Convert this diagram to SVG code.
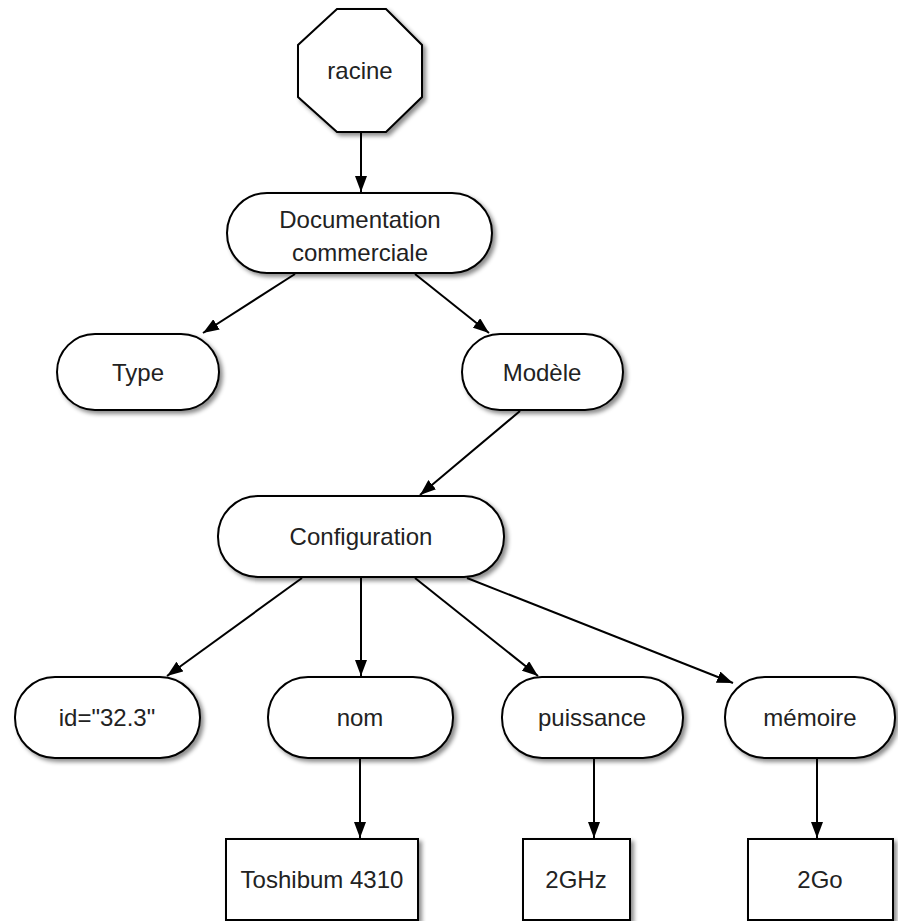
<svg xmlns="http://www.w3.org/2000/svg" width="898" height="921" viewBox="0 0 898 921">
<defs>
<filter id="sh" x="-10%" y="-10%" width="130%" height="140%">
<feDropShadow dx="3" dy="3" stdDeviation="2" flood-color="#000" flood-opacity="0.45"/>
</filter>
<marker id="ah" viewBox="0 0 16 12" refX="16" refY="6" markerWidth="16" markerHeight="12" markerUnits="userSpaceOnUse" orient="auto">
<path d="M0,0 L16,6 L0,12 z" fill="#000"/>
</marker>
</defs>
<style>
.n{fill:#fff;stroke:#000;stroke-width:2;filter:url(#sh)}
.t{font-family:"Liberation Sans",Arial,sans-serif;font-size:24px;fill:#222;text-anchor:middle}
.c line{stroke:#000;stroke-width:2;marker-end:url(#ah)}
</style>
<rect width="898" height="921" fill="#fff"/>
<g class="c">
<line x1="361" y1="132" x2="361" y2="192"/>
<line x1="295" y1="274" x2="203" y2="333"/>
<line x1="415" y1="274" x2="489" y2="333"/>
<line x1="520" y1="411" x2="420" y2="495"/>
<line x1="302" y1="578" x2="167" y2="676"/>
<line x1="361" y1="578" x2="361" y2="676"/>
<line x1="415" y1="578" x2="538" y2="676"/>
<line x1="467" y1="578" x2="733" y2="683"/>
<line x1="360" y1="759" x2="360" y2="838"/>
<line x1="594" y1="759" x2="594" y2="838"/>
<line x1="817" y1="759" x2="817" y2="838"/>
</g>
<g id="racine">
<polygon class="n" points="337,9 386,9 422,45 422,97 386,132 337,132 298,97 298,45"/>
<text class="t" x="360" y="79">racine</text>
</g>
<g id="documentation">
<rect class="n" x="227" y="193" width="265" height="80" rx="40"/>
<text class="t" x="360" y="228">Documentation</text>
<text class="t" x="360" y="261">commerciale</text>
</g>
<g id="type">
<rect class="n" x="57" y="334" width="162" height="76" rx="38"/>
<text class="t" x="138" y="381">Type</text>
</g>
<g id="modele">
<rect class="n" x="462" y="334" width="161" height="76" rx="38"/>
<text class="t" x="542" y="381">Modèle</text>
</g>
<g id="configuration">
<rect class="n" x="218" y="496" width="286" height="81" rx="40"/>
<text class="t" x="361" y="545">Configuration</text>
</g>
<g id="id">
<rect class="n" x="15" y="677" width="185" height="81" rx="40"/>
<text class="t" x="107" y="726">id="32.3"</text>
</g>
<g id="nom">
<rect class="n" x="268" y="677" width="185" height="81" rx="40"/>
<text class="t" x="360" y="726">nom</text>
</g>
<g id="puissance">
<rect class="n" x="502" y="677" width="181" height="81" rx="40"/>
<text class="t" x="592" y="726">puissance</text>
</g>
<g id="memoire">
<rect class="n" x="725" y="677" width="170" height="81" rx="40"/>
<text class="t" x="810" y="726">mémoire</text>
</g>
<g id="toshibum">
<rect class="n" x="226" y="839" width="192" height="81"/>
<text class="t" x="322" y="888">Toshibum 4310</text>
</g>
<g id="ghz">
<rect class="n" x="523" y="839" width="107" height="81"/>
<text class="t" x="576" y="888">2GHz</text>
</g>
<g id="go">
<rect class="n" x="748" y="839" width="145" height="81"/>
<text class="t" x="820" y="888">2Go</text>
</g>
</svg>
